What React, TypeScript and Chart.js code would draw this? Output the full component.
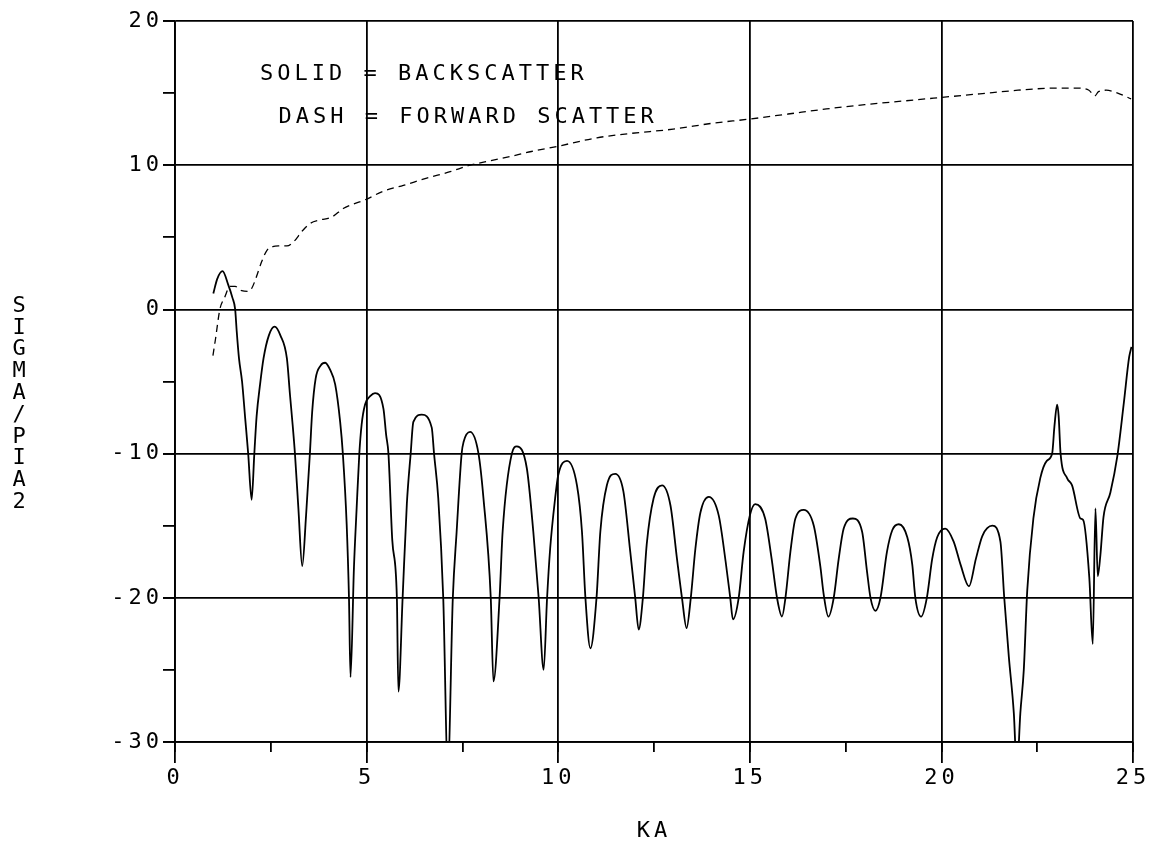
import React, { useEffect, useRef } from "react";
import { Chart, registerables } from "chart.js";

Chart.register(...registerables);

// ---- data ----
const backKa = [
  1.0, 1.1, 1.24, 1.39, 1.5, 1.57, 1.61, 1.67, 1.75, 1.83, 1.91, 2.0, 2.07, 2.13, 2.22, 2.31, 2.45, 2.6, 2.75, 2.92,
  3.0, 3.07, 3.13, 3.22, 3.32, 3.42, 3.52, 3.58, 3.67, 3.8, 3.92, 4.05, 4.18, 4.31, 4.38, 4.48, 4.54, 4.58, 4.67, 4.74,
  4.81, 4.87, 4.96, 5.1, 5.22, 5.44, 5.51, 5.57, 5.67, 5.79, 5.83, 5.94, 6.05, 6.15, 6.22, 6.44, 6.7, 6.76, 6.87, 7.0,
  7.12, 7.25, 7.35, 7.48, 7.53, 7.7, 7.92, 8.05, 8.24, 8.31, 8.47, 8.55, 8.79, 8.92, 9.18, 9.35, 9.49, 9.62, 9.71, 9.79,
  9.92, 10.0, 10.23, 10.49, 10.62, 10.71, 10.84, 11.0, 11.1, 11.27, 11.49, 11.7, 11.88, 12.01, 12.1, 12.21, 12.31, 12.49, 12.71, 12.93,
  13.1, 13.23, 13.35, 13.46, 13.58, 13.71, 13.93, 14.19, 14.37, 14.49, 14.56, 14.71, 14.84, 15.0, 15.14, 15.4, 15.57, 15.71, 15.84, 15.93,
  16.06, 16.19, 16.41, 16.67, 16.84, 16.93, 17.05, 17.19, 17.32, 17.45, 17.69, 17.93, 18.06, 18.15, 18.28, 18.41, 18.58, 18.72, 18.89, 19.11,
  19.24, 19.32, 19.47, 19.62, 19.76, 19.89, 20.1, 20.32, 20.5, 20.72, 20.9, 21.07, 21.33, 21.54, 21.64, 21.76, 21.89, 21.97, 22.06, 22.15,
  22.24, 22.4, 22.58, 22.75, 22.89, 22.95, 23.02, 23.06, 23.11, 23.28, 23.41, 23.63, 23.7, 23.86, 23.95, 24.02, 24.08, 24.15, 24.23, 24.41,
  24.59, 24.76, 24.9, 24.96,
];
const backSigma = [
  1.1, 2.1, 2.65, 1.7, 0.8, 0, -1.5, -3.4, -5.0, -7.5, -10, -13.2, -10, -7.4, -5.2, -3.4, -1.8, -1.2, -1.8, -3.4,
  -5.9, -8.0, -10, -13.8, -17.8, -14.3, -10, -7.1, -4.8, -3.9, -3.7, -4.2, -5.2, -7.8, -10, -14.9, -20, -25.5, -17.9, -13.8,
  -10, -8.0, -6.6, -6.0, -5.8, -6.9, -8.7, -10, -16, -20, -26.5, -20, -13.5, -10, -7.8, -7.3, -8.2, -10, -13.1, -20,
  -32, -20, -15.4, -10, -9.2, -8.5, -10, -13.1, -20, -25.8, -20, -15.4, -10, -9.5, -11.0, -15.4, -20, -25.0, -20, -16.6,
  -13.1, -11.5, -10.5, -12.2, -15.4, -20, -23.5, -20, -15.4, -12.2, -11.4, -12.6, -16.8, -20, -22.2, -20, -16.3, -13.1, -12.2, -13.6,
  -17.3, -20, -22.1, -20, -16.6, -14.1, -13.0, -14.3, -17.5, -20, -21.5, -20, -16.8, -14.3, -13.5, -14.5, -17.3, -20, -21.3, -20,
  -16.8, -14.5, -13.9, -15.0, -17.8, -19.8, -21.3, -20, -17.3, -15.2, -14.5, -15.4, -18.2, -20, -20.9, -20, -16.8, -15.3, -14.9, -15.8,
  -17.7, -20, -21.3, -20, -17.3, -15.8, -15.2, -16.1, -17.7, -19.2, -17.3, -15.7, -15.0, -16.1, -20, -24.1, -28, -32, -28, -25,
  -19.5, -14.5, -11.7, -10.5, -10, -8.1, -6.6, -7.4, -10, -11.7, -12.2, -14.5, -14.6, -18.6, -23.2, -13.8, -18.5, -17, -14.4, -12.7,
  -10.2, -6.5, -3.3, -2.6,
];
const fwdKa = [
  0.99, 1.06, 1.17, 1.29, 1.44, 1.57, 1.74, 1.91, 2.0, 2.09, 2.26, 2.4, 2.55, 2.7, 2.92, 3.1, 3.31, 3.52, 3.78, 4.09,
  4.39, 4.65, 4.96, 5.44, 5.96, 6.57, 7.18, 7.7, 8.22, 8.75, 9.3, 9.97, 11.01, 11.88, 13.0, 14.0, 15.0, 16.0, 17.0, 18.0,
  19.0, 20.0, 21.0, 22.0, 22.5, 23.0, 23.5, 23.85, 24.0, 24.1, 24.3, 24.6, 24.95,
];
const fwdSigma = [
  -3.2, -2.0, 0, 0.8, 1.6, 1.6, 1.3, 1.25, 1.45, 2.0, 3.3, 4.1, 4.35, 4.4, 4.4, 4.7, 5.4, 5.95, 6.2, 6.4,
  7.0, 7.3, 7.6, 8.2, 8.6, 9.1, 9.55, 10.0, 10.3, 10.6, 10.95, 11.3, 11.9, 12.2, 12.5, 12.9, 13.2, 13.55, 13.9, 14.2,
  14.45, 14.7, 14.95, 15.2, 15.3, 15.35, 15.35, 15.2, 14.8, 15.1, 15.2, 15.0, 14.6,
];
const xMajorTicks = [0, 5, 10, 15, 20, 25];
const yMajorTicks = [-30, -20, -10, 0, 10, 20];
const legendLines = ["SOLID = BACKSCATTER", "DASH = FORWARD SCATTER"];
const yTitle = "SIGMA/PIA2";
const xTitle = "KA";

const FONT = '"DejaVu Sans Mono", monospace';
const INK = "#000";

export default function App() {
  const ref = useRef<HTMLCanvasElement>(null);

  useEffect(() => {
    document.body.style.margin = "0";
    const canvas = ref.current!;
    const ctx = canvas.getContext("2d")!;

    const textPlugin = {
      id: "plotterText",
      beforeDraw(chart: any) {
        (chart.ctx as any).letterSpacing = "4px";
      },
      afterDraw(chart: any) {
        const c = chart.ctx as CanvasRenderingContext2D;
        const xs = chart.scales.x;
        const ys = chart.scales.y;
        c.save();
        (c as any).letterSpacing = "4px";
        c.fillStyle = INK;
        c.font = `22px ${FONT}`;
        c.textBaseline = "middle";
        c.textAlign = "left";
        c.fillText(legendLines[0], xs.getPixelForValue(2.22), ys.getPixelForValue(16.3));
        c.fillText(legendLines[1], xs.getPixelForValue(2.7), ys.getPixelForValue(13.3));
        // stacked vertical y-axis title
        c.textAlign = "center";
        (c as any).letterSpacing = "0px";
        const chars = yTitle.split("");
        const step = 21.8;
        const y0 = 306;
        chars.forEach((ch, i) => {
          c.fillText(ch, 19, y0 + i * step);
        });
        c.restore();
      },
    };

    const gridCommon = {
      color: "#000",
      lineWidth: 1.8,
      tickColor: "#000",
      tickWidth: 1.8,
    };

    const chart = new Chart(ctx, {
      type: "line",
      data: {
        datasets: [
          {
            label: "BACKSCATTER",
            data: backKa.map((x, i) => ({ x, y: backSigma[i] })),
            borderColor: INK,
            borderWidth: 1.8,
            pointRadius: 0,
            cubicInterpolationMode: "monotone",
            fill: false,
          },
          {
            label: "FORWARD SCATTER",
            data: fwdKa.map((x, i) => ({ x, y: fwdSigma[i] })),
            borderColor: INK,
            borderWidth: 1.3,
            borderDash: [7, 5],
            pointRadius: 0,
            cubicInterpolationMode: "monotone",
            fill: false,
          },
        ],
      },
      options: {
        animation: false,
        responsive: false,
        events: [],
        layout: { padding: { top: 21, right: 18, left: 0, bottom: 0 } },
        plugins: {
          legend: { display: false },
          tooltip: { enabled: false },
          title: { display: false },
        },
        scales: {
          x: {
            type: "linear",
            position: "bottom",
            min: 0,
            max: 25,
            afterBuildTicks: (s: any) => {
              s.ticks = xMajorTicks.map((v) => ({ value: v }));
            },
            afterFit: (s: any) => {
              s.height = 104;
            },
            grid: { ...gridCommon, drawTicks: true, tickLength: 21 },
            border: { display: true, color: "#000", width: 1.8 },
            ticks: {
              color: INK,
              font: { family: FONT, size: 22 },
              padding: 2,
              maxRotation: 0,
              autoSkip: false,
            },
            title: {
              display: true,
              text: xTitle,
              color: INK,
              font: { family: FONT, size: 22 },
              padding: { top: 0, bottom: 2 },
            },
          },
          y: {
            type: "linear",
            position: "left",
            min: -30,
            max: 20,
            afterBuildTicks: (s: any) => {
              s.ticks = yMajorTicks.map((v) => ({ value: v }));
            },
            afterFit: (s: any) => {
              s.width = 175;
            },
            grid: { ...gridCommon, drawTicks: true, tickLength: 12 },
            border: { display: true, color: "#000", width: 1.8 },
            ticks: {
              color: INK,
              font: { family: FONT, size: 22 },
              padding: 0,
              autoSkip: false,
            },
          },
          xMinor: {
            type: "linear",
            axis: "x",
            position: { y: -30 },
            min: 0,
            max: 25,
            ticks: { display: false, stepSize: 2.5 },
            grid: { ...gridCommon, drawOnChartArea: false, drawTicks: true, tickLength: 10 },
            border: { display: false },
          },
          yMinor: {
            type: "linear",
            axis: "y",
            position: { x: 0 },
            min: -30,
            max: 20,
            ticks: { display: false, stepSize: 5 },
            grid: { ...gridCommon, drawOnChartArea: false, drawTicks: true, tickLength: 12 },
            border: { display: false },
          },
        },
      } as any,
      plugins: [textPlugin],
    });

    return () => chart.destroy();
  }, []);

  return <canvas ref={ref} width={1151} height={846} style={{ display: "block" }} />;
}
